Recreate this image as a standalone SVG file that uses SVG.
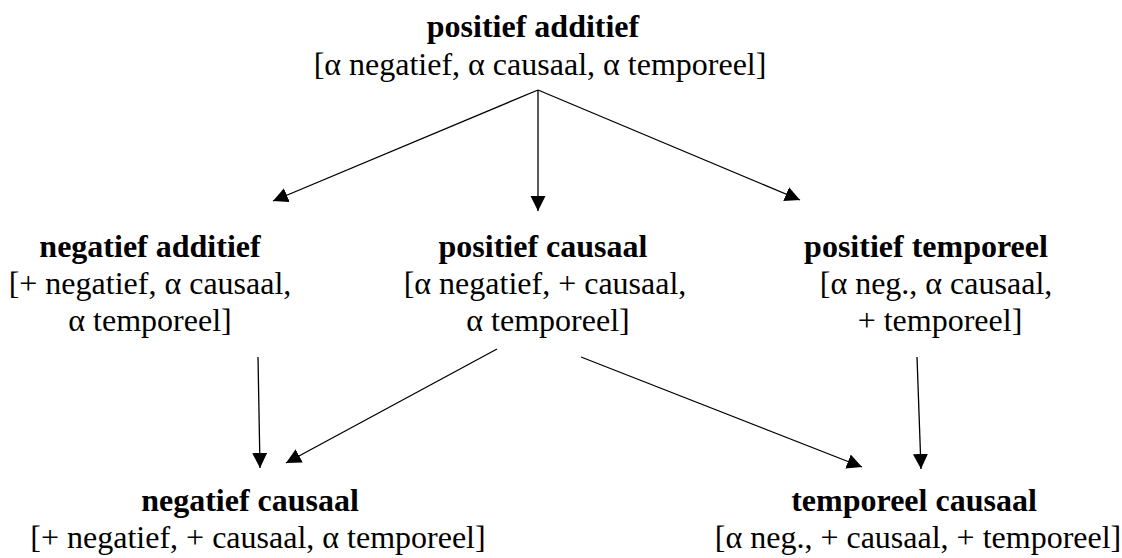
<svg xmlns="http://www.w3.org/2000/svg" width="1122" height="558" viewBox="0 0 1122 558" font-family="'Liberation Serif', 'Times New Roman', serif">
<defs>
<marker id="ah" markerUnits="userSpaceOnUse" markerWidth="16" markerHeight="16" refX="15" refY="7.5" orient="auto">
<path d="M0,0 L15,7.5 L0,15 z" fill="#000"/>
</marker>
<style>
text{font-family:'Liberation Serif','Times New Roman',serif;font-size:32px;fill:#000;text-anchor:middle}
.t{font-weight:bold}
.c line{stroke:#000;stroke-width:1.3;marker-end:url(#ah)}
</style>
</defs>
<rect width="1122" height="558" fill="#fff"/>
<g id="positief-additief">
<text class="t" x="533" y="37">positief additief</text>
<text x="540" y="75">[α negatief, α causaal, α temporeel]</text>
</g>
<g id="negatief-additief">
<text class="t" x="150" y="257">negatief additief</text>
<text x="150" y="294">[+ negatief, α causaal,</text>
<text x="150" y="331">α temporeel]</text>
</g>
<g id="positief-causaal">
<text class="t" x="543" y="257">positief causaal</text>
<text x="545" y="294">[α negatief, + causaal,</text>
<text x="548" y="331">α temporeel]</text>
</g>
<g id="positief-temporeel">
<text class="t" x="926" y="257">positief temporeel</text>
<text x="936" y="294">[α neg., α causaal,</text>
<text x="940" y="331">+ temporeel]</text>
</g>
<g id="negatief-causaal">
<text class="t" x="250" y="511">negatief causaal</text>
<text x="258" y="548">[+ negatief, + causaal, α temporeel]</text>
</g>
<g id="temporeel-causaal">
<text class="t" x="914" y="511">temporeel causaal</text>
<text x="918" y="548">[α neg., + causaal, + temporeel]</text>
</g>
<g id="connectors" class="c">
<line x1="538" y1="90" x2="273" y2="201"/>
<line x1="538" y1="90" x2="538" y2="211"/>
<line x1="538" y1="90" x2="800" y2="200"/>
<line x1="258" y1="357" x2="260" y2="468"/>
<line x1="497" y1="349" x2="286" y2="463"/>
<line x1="581" y1="357" x2="862" y2="467"/>
<line x1="917" y1="357" x2="921" y2="469"/>
</g>
</svg>
